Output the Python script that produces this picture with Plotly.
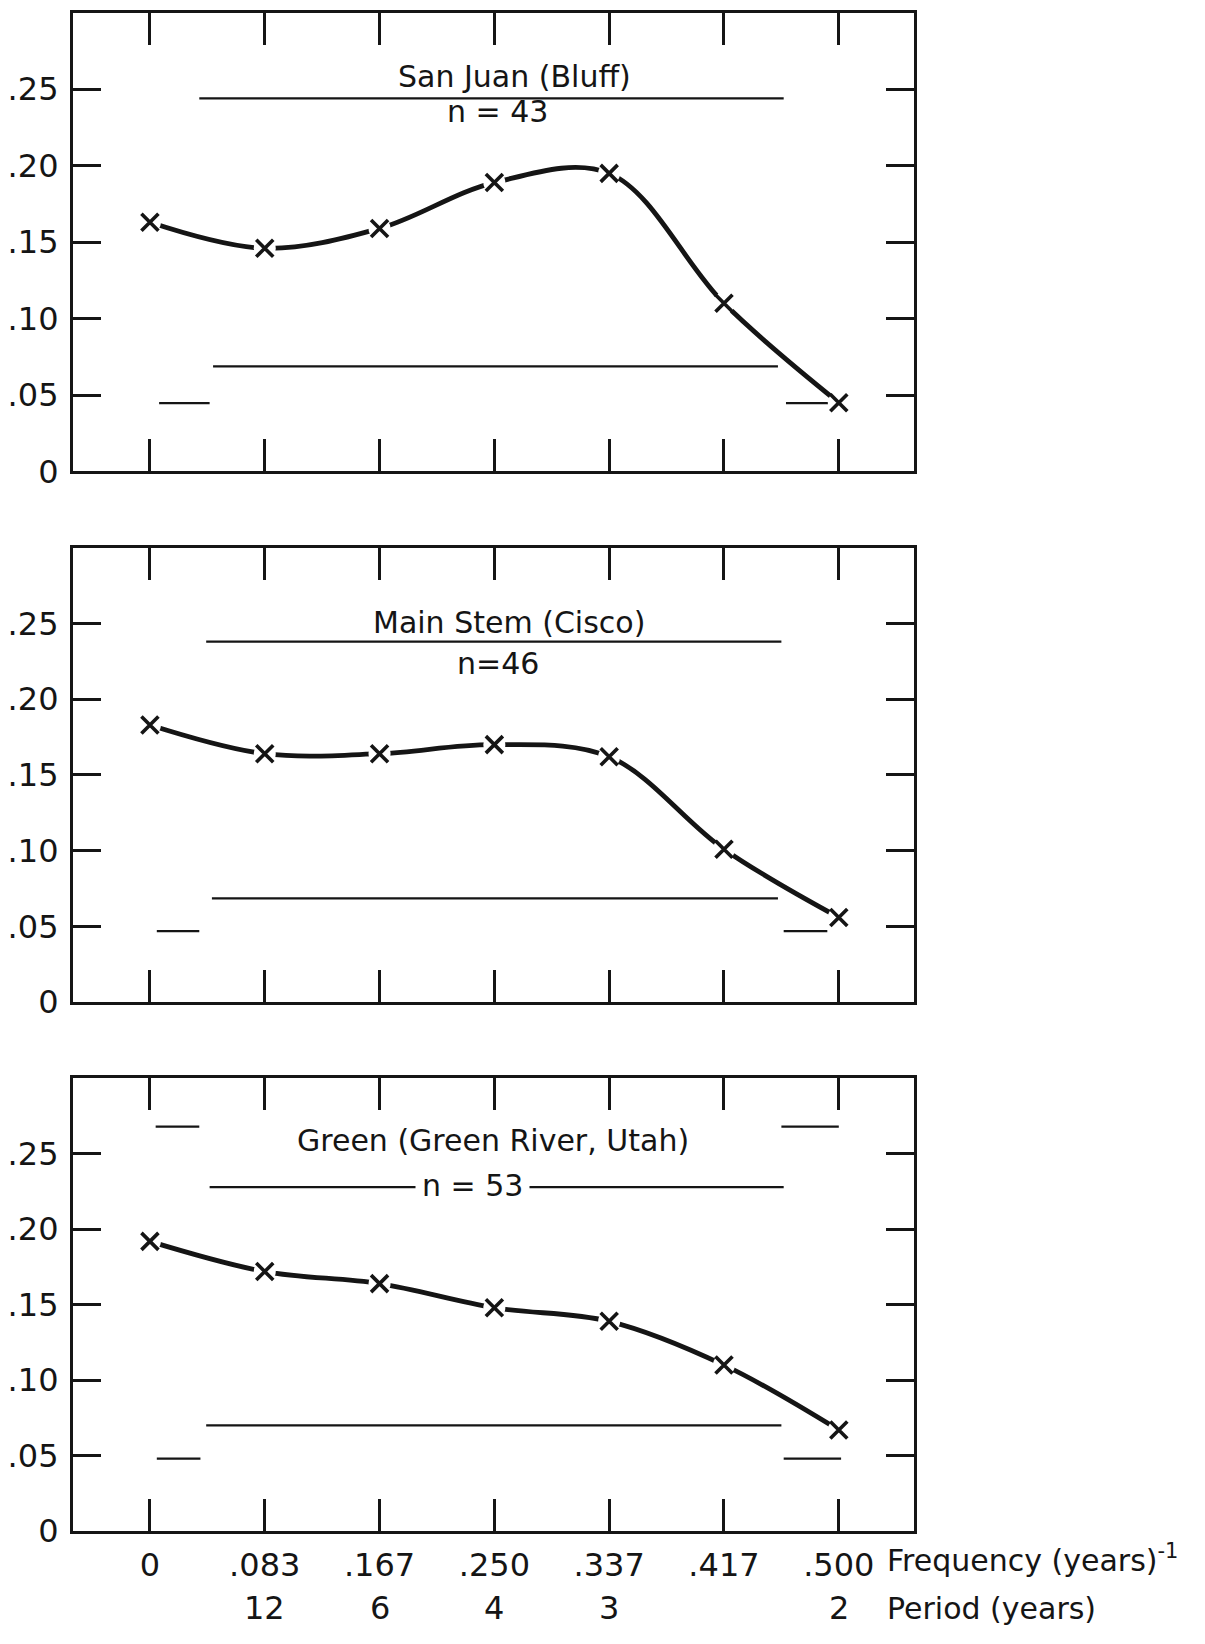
import plotly.graph_objects as go

# ---------------- data ----------------
x_index = [0, 1, 2, 3, 4, 5, 6]
freq_labels = ["0", ".083", ".167", ".250", ".337", ".417", ".500"]
period_labels = ["", "12", "6", "4", "3", "", "2"]
y_tickvals = [0, 0.05, 0.10, 0.15, 0.20, 0.25]
y_ticktext = ["0", ".05", ".10", ".15", ".20", ".25"]

titles = ["San Juan (Bluff)", "Main Stem (Cisco)", "Green (Green River, Utah)"]
n_labels = ["n = 43", "n=46", "n = 53"]

san_juan = [0.163, 0.146, 0.159, 0.189, 0.195, 0.110, 0.045]
main_stem = [0.183, 0.164, 0.164, 0.170, 0.162, 0.101, 0.056]
green = [0.192, 0.172, 0.164, 0.148, 0.139, 0.110, 0.067]
series = [san_juan, main_stem, green]

# confidence-limit levels
upper_limit = [0.244, 0.238, 0.228]
lower_limit = [0.0687, 0.0685, 0.070]
end_lower = [0.0447, 0.047, 0.048]
end_upper = [None, None, 0.268]

# frequency-index extents of the limit lines
upper_extent = [[0.43, 5.52], [0.49, 5.50], [0.52, 5.52]]
lower_extent = [[0.55, 5.47], [0.54, 5.47], [0.49, 5.50]]
end_left_extent = [[0.08, 0.52], [0.06, 0.43], [0.06, 0.44]]
end_right_extent = [[5.54, 5.95], [5.52, 5.90], [5.52, 6.02]]
end_upper_left_extent = [None, None, [0.05, 0.43]]
end_upper_right_extent = [None, None, [5.50, 6.00]]

# ---------------- figure ----------------
W, H = 1205, 1644
INK = "#151515"
FONT = "DejaVu Sans"

fig = go.Figure()

def ypaper(px):
    return 1 - px / H

domains = [
    [ypaper(477), ypaper(13)],
    [ypaper(1014), ypaper(554)],
    [ypaper(1549), ypaper(1091)],
]
x_domain = [73 / W, 914 / W]
x_range = [-0.67, 6.655]

def seg(k, ext, level):
    xa = "x" if k == 0 else f"x{k+1}"
    ya = "y" if k == 0 else f"y{k+1}"
    fig.add_trace(go.Scatter(
        x=ext, y=[level, level], mode="lines",
        line=dict(color=INK, width=2.2), xaxis=xa, yaxis=ya,
        hoverinfo="skip"))

for k in range(3):
    xa = "x" if k == 0 else f"x{k+1}"
    ya = "y" if k == 0 else f"y{k+1}"
    seg(k, upper_extent[k], upper_limit[k])
    seg(k, lower_extent[k], lower_limit[k])
    seg(k, end_left_extent[k], end_lower[k])
    seg(k, end_right_extent[k], end_lower[k])
    if end_upper[k] is not None:
        seg(k, end_upper_left_extent[k], end_upper[k])
        seg(k, end_upper_right_extent[k], end_upper[k])
    fig.add_trace(go.Scatter(
        x=x_index, y=series[k], mode="lines",
        line=dict(color=INK, width=4.8, shape="spline", smoothing=1.0),
        xaxis=xa, yaxis=ya, hoverinfo="skip"))
    fig.add_trace(go.Scatter(
        x=x_index, y=series[k], mode="markers",
        marker=dict(symbol="circle", size=22, color="white", line=dict(width=0)),
        xaxis=xa, yaxis=ya, hoverinfo="skip"))
    fig.add_trace(go.Scatter(
        x=x_index, y=series[k], mode="markers",
        marker=dict(symbol="x-thin", size=17, line=dict(color=INK, width=3.6)),
        xaxis=xa, yaxis=ya, hoverinfo="skip"))

axis_common = dict(
    showline=True, linecolor=INK, linewidth=3.2, mirror="ticks",
    ticks="inside", tickcolor=INK, tickwidth=2.6,
    showgrid=False, zeroline=False,
    tickfont=dict(family=FONT, size=32, color=INK),
)

layout = dict(
    width=W, height=H, margin=dict(l=0, r=0, t=0, b=0),
    paper_bgcolor="white", plot_bgcolor="white", showlegend=False,
    font=dict(family=FONT, color=INK),
)
for k in range(3):
    xname = "xaxis" if k == 0 else f"xaxis{k+1}"
    yname = "yaxis" if k == 0 else f"yaxis{k+1}"
    ya = "y" if k == 0 else f"y{k+1}"
    xa = "x" if k == 0 else f"x{k+1}"
    layout[xname] = dict(
        axis_common, domain=x_domain, range=x_range, anchor=ya,
        tickmode="array", tickvals=x_index, ticktext=freq_labels,
        ticklen=32, showticklabels=(k == 2), ticklabelstandoff=3,
    )
    layout[yname] = dict(
        axis_common, domain=domains[k], range=[0, 0.30], anchor=xa,
        tickmode="array", tickvals=y_tickvals, ticktext=y_ticktext,
        ticklen=28, ticklabelstandoff=5,
    )
fig.update_layout(**layout)

# panel titles
title_pos = [(514, 77, 498, 113), (509, 630, 498, 671), (493, 1154, 472, 1199)]
for k in range(3):
    tx, ty, nx, ny = title_pos[k]
    fig.add_annotation(x=tx / W, y=ypaper(ty), xref="paper", yref="paper",
                       text=titles[k], showarrow=False,
                       font=dict(family=FONT, size=30, color=INK),
                       xanchor="center", yanchor="middle")
    fig.add_annotation(x=nx / W, y=ypaper(ny), xref="paper", yref="paper",
                       text=n_labels[k], showarrow=False,
                       font=dict(family=FONT, size=30, color=INK),
                       bgcolor="white" if k == 2 else None, borderpad=6,
                       xanchor="center", yanchor="middle")

# period row
for i, lab in zip(x_index, period_labels):
    if lab:
        fig.add_annotation(x=i, xref="x3", y=ypaper(1627), yref="paper",
                           text=lab, showarrow=False,
                           font=dict(family=FONT, size=32, color=INK),
                           xanchor="center", yanchor="middle")

fig.add_annotation(x=885 / W, y=ypaper(1577), xref="paper", yref="paper",
                   text="Frequency (years)<sup>-1</sup>", showarrow=False,
                   font=dict(family=FONT, size=30, color=INK),
                   xanchor="left", yanchor="middle")
fig.add_annotation(x=885 / W, y=ypaper(1627), xref="paper", yref="paper",
                   text="Period (years)", showarrow=False,
                   font=dict(family=FONT, size=30, color=INK),
                   xanchor="left", yanchor="middle")

fig.write_html("out.html")
